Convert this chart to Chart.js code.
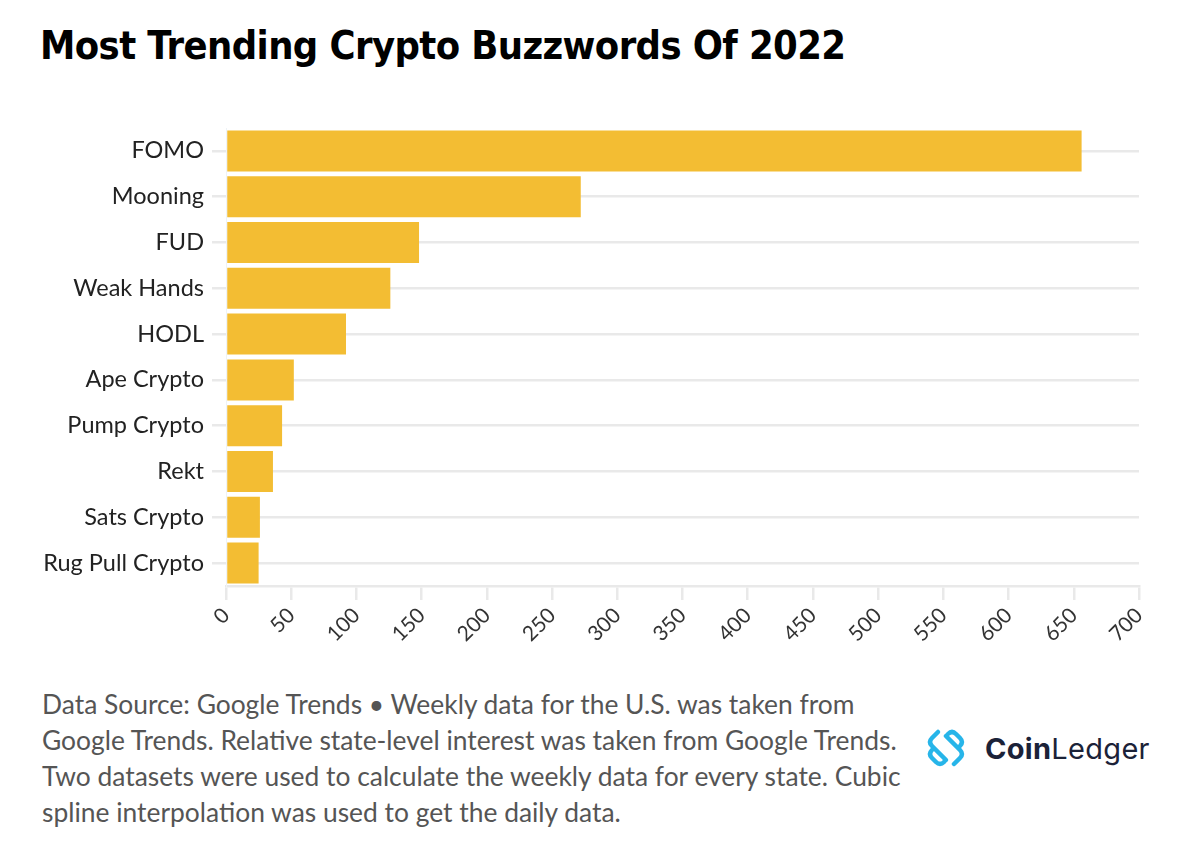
<!DOCTYPE html>
<html>
<head>
<meta charset="utf-8">
<script src="https://cdn.jsdelivr.net/npm/chart.js@4"></script>
<style>
  html, body { margin: 0; padding: 0; background: #fff; }
  body { width: 1200px; height: 846px; position: relative; overflow: hidden; font-family: Lato, "Noto Sans", sans-serif; }
  #title { position: absolute; left: 40px; top: 22px; font-family: "DejaVu Sans Condensed", "Liberation Sans Narrow", sans-serif; font-weight: bold; font-size: 39.5px; color: #000; letter-spacing: -0.6px; white-space: nowrap; }
  #wrap { position: absolute; left: 0; top: 100px; width: 1200px; height: 570px; }
  #foot { position: absolute; left: 42px; top: 686px; font-size: 26.4px; line-height: 36px; color: #555; white-space: nowrap; }
  #logo { position: absolute; left: 924px; top: 726px; height: 44px; display: flex; align-items: center; }
  #logo .txt { margin-left: 17px; font-family: Inter, "Open Sans", sans-serif; font-size: 29px; color: #1b2238; letter-spacing: 0.3px; }
</style>
</head>
<body>
<div id="title">Most Trending Crypto Buzzwords Of 2022</div>
<div id="wrap"><canvas id="c"></canvas></div>
<div id="foot">Data Source: Google Trends • Weekly data for the U.S. was taken from<br>Google Trends. Relative state-level interest was taken from Google Trends.<br>Two datasets were used to calculate the weekly data for every state. Cubic<br>spline interpolation was used to get the daily data.</div>
<div id="logo">
  <svg width="44" height="44" viewBox="0 0 44 44">
    <g fill="none" stroke="#27b5e9" stroke-width="4.5" stroke-linecap="round">
      <path d="M 14 6 L 8 12 Q 4 16 8 20 L 22 34"/>
      <path d="M 30 38 L 36 32 Q 40 28 36 24 L 22 10"/>
      <path d="M 8 24 Q 4 28 8 32 L 12 36 Q 16 40 20 36"/>
      <path d="M 36 20 Q 40 16 36 12 L 32 8 Q 28 4 24 8"/>
    </g>
  </svg>
  <span class="txt"><b>Coin</b>Ledger</span>
</div>
<script>
const categories = ["FOMO", "Mooning", "FUD", "Weak Hands", "HODL", "Ape Crypto", "Pump Crypto", "Rekt", "Sats Crypto", "Rug Pull Crypto"];
const values = [656, 272, 148, 126, 92, 52, 43, 36, 26, 25];
const xMin = 0, xMax = 700, xStep = 50;

const gridColor = '#e9e9e9';
new Chart(document.getElementById('c'), {
  type: 'bar',
  data: {
    labels: categories,
    datasets: [{
      data: values,
      backgroundColor: '#f3bd33',
      borderWidth: 0,
      barPercentage: 0.895,
      categoryPercentage: 1.0
    }]
  },
  options: {
    indexAxis: 'y',
    responsive: true,
    maintainAspectRatio: false,
    animation: false,
    layout: { padding: { left: 0, right: 61, top: 28, bottom: 0 } },
    plugins: { legend: { display: false }, tooltip: { enabled: false } },
    scales: {
      x: {
        min: xMin, max: xMax,
        afterFit: (s) => { s.height = 84; },
        grid: { drawOnChartArea: false, drawTicks: true, tickLength: 14, color: gridColor, lineWidth: 2.5 },
        border: { display: true, color: gridColor, width: 2.5 },
        ticks: { stepSize: xStep, maxRotation: 45, minRotation: 45, autoSkip: false, padding: 3, color: '#333', font: { family: 'Lato', size: 21 } }
      },
      y: {
        afterFit: (s) => { s.width = 226; },
        grid: { offset: false, drawOnChartArea: true, tickLength: 14, color: gridColor, lineWidth: 2.5 },
        border: { display: true, color: '#eef3f7', width: 1 },
        ticks: { padding: 8, color: '#222', font: { family: 'Lato', size: 23.5 } }
      }
    }
  }
});
</script>
</body>
</html>
